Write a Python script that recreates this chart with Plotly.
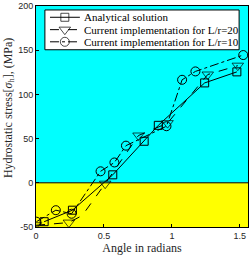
import plotly.graph_objects as go

# Analytical solution
x_ana = [0.06, 0.268, 0.565, 0.796, 0.90, 1.241, 1.478]
y_ana = [-44, -31, 9, 47, 65, 113, 125.5]

# Current implementation L/r=20
x_t20 = [0.0, 0.242, 0.34, 0.509, 0.754, 0.968, 1.264, 1.485]
y_t20 = [-48, -45, -37, -1, 53.5, 67.5, 122.5, 132.5]
m_t20 = [True, True, False, True, True, True, True, True]

# Current implementation L/r=10
x_c10 = [0.003, 0.146, 0.262, 0.475, 0.577, 0.662, 0.960, 1.075, 1.173, 1.525]
y_c10 = [-44, -31, -35, 13, 23, 42, 64, 116.5, 126, 144.5]

series_names = ["Analytical solution",
                "Current implementation for L/r=20",
                "Current implementation for L/r=10"]

xticks = [0, 0.5, 1, 1.5]
yticks = [-50, 0, 50, 100, 150, 200]

serif = "Liberation Serif, DejaVu Serif, serif"
sans = "Liberation Sans, Arial, sans-serif"

styles = [
    dict(dash="solid", symbol="square-open", size=8),
    dict(dash="dash", symbol="triangle-down-open", size=10),
    dict(dash="dashdot", symbol="circle-open", size=9),
]

fig = go.Figure()
data = [(x_ana, y_ana, None), (x_t20, y_t20, m_t20), (x_c10, y_c10, None)]
for (xs, ys, mk), st, nm in zip(data, styles, series_names):
    sizes = [st["size"] if m else 0 for m in mk] if mk else st["size"]
    fig.add_trace(go.Scatter(
        x=xs, y=ys, mode="lines+markers", name=nm, showlegend=False,
        line=dict(color="black", width=1, dash=st["dash"]),
        marker=dict(symbol=st["symbol"], size=sizes, color="black", line=dict(width=1))))

# Legend drawn on an overlay axis in [0,1] paper-like units
box_x = [0.042, 0.958, 0.958, 0.042, 0.042]
box_y = [0.982, 0.982, 0.802, 0.802, 0.982]
fig.add_trace(go.Scatter(x=box_x, y=box_y, xaxis="x2", yaxis="y2", mode="lines",
                         fill="toself", fillcolor="white",
                         line=dict(color="black", width=1), showlegend=False,
                         hoverinfo="skip"))
row_y = [0.949, 0.893, 0.838]
for st, ry, nm in zip(styles, row_y, series_names):
    fig.add_trace(go.Scatter(x=[0.066, 0.136, 0.207], y=[ry, ry, ry], xaxis="x2", yaxis="y2",
                             mode="lines+markers", showlegend=False, hoverinfo="skip",
                             line=dict(color="black", width=1, dash=st["dash"]),
                             marker=dict(symbol=st["symbol"], size=[0, st["size"], 0],
                                         color="black", line=dict(width=1))))
    fig.add_annotation(x=0.218, y=ry, xref="x2", yref="y2", text=nm, showarrow=False,
                       xanchor="left", yanchor="middle",
                       font=dict(family=serif, size=11, color="black"))

fig.add_shape(type="rect", xref="paper", yref="y", x0=0, x1=1, y0=0, y1=200,
              fillcolor="#00FFFF", line=dict(width=0), layer="below")
fig.add_shape(type="rect", xref="paper", yref="y", x0=0, x1=1, y0=-50, y1=0,
              fillcolor="#FFFF00", line=dict(width=0), layer="below")
fig.add_shape(type="line", xref="paper", yref="y", x0=0, x1=1, y0=0, y1=0,
              line=dict(color="black", width=1), layer="below")

fig.add_annotation(x=0, y=0.538, xref="paper", yref="paper", xshift=-27,
                   text="Hydrostatic stress[<i>σ</i><sub>h</sub>], (MPa)",
                   textangle=-90, showarrow=False, xanchor="center", yanchor="middle",
                   font=dict(family=serif, size=12, color="#262626"))

fig.update_layout(
    width=250, height=257,
    margin=dict(l=36, r=1, t=4, b=30),
    paper_bgcolor="white", plot_bgcolor="white",
    showlegend=False,
    xaxis2=dict(overlaying="x", range=[0, 1], visible=False, fixedrange=True),
    yaxis2=dict(overlaying="y", range=[0, 1], visible=False, fixedrange=True),
    xaxis=dict(range=[0, 1.56], tickvals=xticks, ticktext=[str(t) for t in xticks],
               showgrid=False, zeroline=False, showline=True, linecolor="black",
               linewidth=1, mirror=True, ticks="inside", ticklen=3, tickcolor="black",
               ticklabeloverflow="allow",
               tickfont=dict(family=sans, size=9, color="#262626"),
               title=dict(text="Angle in radians",
                          font=dict(family=serif, size=12, color="#262626"), standoff=3)),
    yaxis=dict(range=[-50, 200], tickvals=yticks, ticktext=[str(t) for t in yticks],
               showgrid=False, zeroline=False, showline=True, linecolor="black",
               linewidth=1, mirror=True, ticks="inside", ticklen=3, tickcolor="black",
               ticklabeloverflow="allow",
               tickfont=dict(family=sans, size=9, color="#262626")),
)

fig.write_html("out.html", config={"displayModeBar": False},
               post_script="document.body.style.margin='0px';document.body.style.overflow='hidden';")
